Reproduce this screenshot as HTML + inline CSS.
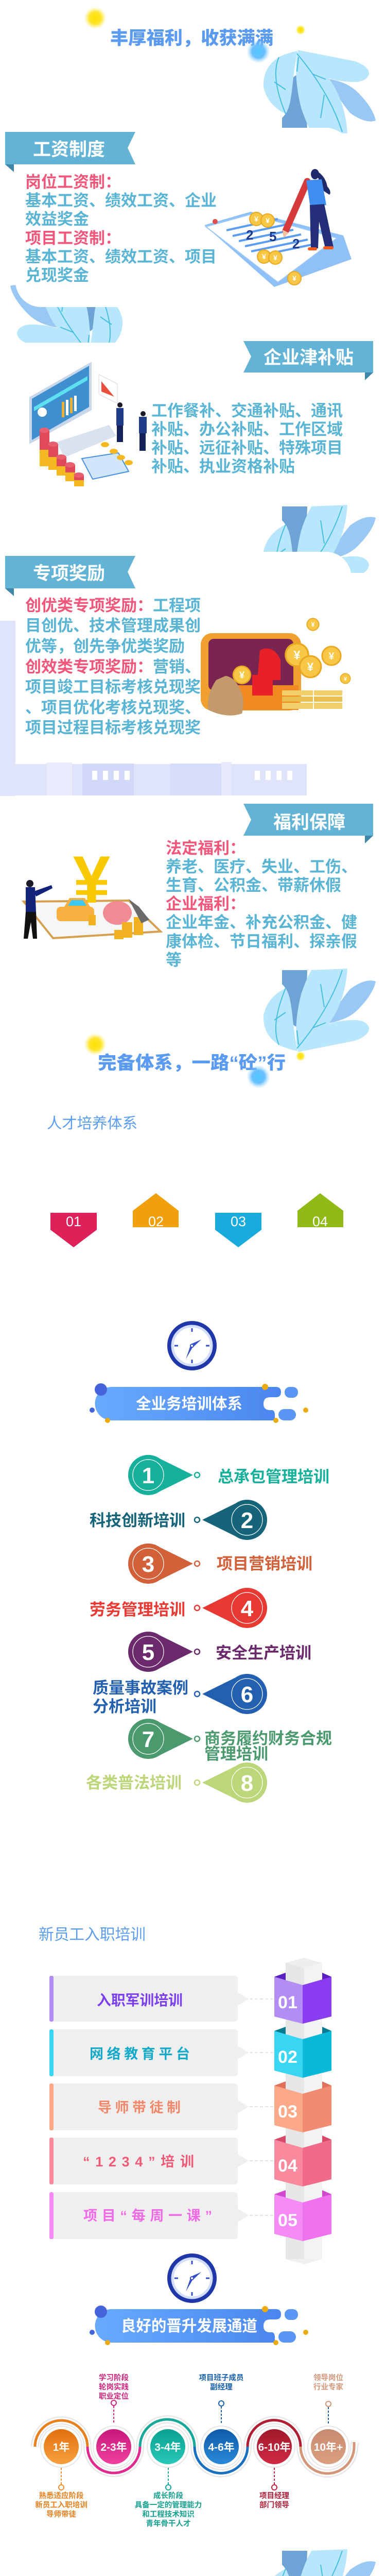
<!DOCTYPE html>
<html><head><meta charset="utf-8">
<style>
html{margin:0;padding:0;width:750px;height:5195px;overflow:hidden;background:#fff;}
body{margin:0;padding:0;width:750px;height:5195px;overflow:hidden;position:relative;background:#fff;}
svg{position:absolute;left:0;top:0;display:block;width:750px;height:5195px;}
text{font-family:"Liberation Sans","Noto Sans CJK SC",sans-serif;}
</style></head>
<body>
<svg width="750" height="5195" viewBox="0 0 750 5195" xmlns="http://www.w3.org/2000/svg" overflow="hidden">
<defs>
  <radialGradient id="gy"><stop offset="0" stop-color="#ffe000"/><stop offset="0.55" stop-color="#ffe21a" stop-opacity="0.9"/><stop offset="1" stop-color="#fff37a" stop-opacity="0"/></radialGradient>
  <radialGradient id="gb"><stop offset="0" stop-color="#4fc8ff"/><stop offset="0.55" stop-color="#5ab8ff" stop-opacity="0.9"/><stop offset="1" stop-color="#9fd8ff" stop-opacity="0"/></radialGradient>
  <linearGradient id="pill" x1="0" x2="1"><stop offset="0" stop-color="#69aaff"/><stop offset="1" stop-color="#4a86ee"/></linearGradient>
  <linearGradient id="c1" x1="0" y1="0" x2="0" y2="1"><stop offset="0" stop-color="#e0700c"/><stop offset="1" stop-color="#f8a040"/></linearGradient>
  <linearGradient id="c2" x1="0" y1="0" x2="0" y2="1"><stop offset="0" stop-color="#c8187a"/><stop offset="1" stop-color="#f040a0"/></linearGradient>
  <linearGradient id="c3" x1="0" y1="0" x2="0" y2="1"><stop offset="0" stop-color="#0aa090"/><stop offset="1" stop-color="#28c8b8"/></linearGradient>
  <linearGradient id="c4" x1="0" y1="0" x2="0" y2="1"><stop offset="0" stop-color="#0e5aa8"/><stop offset="1" stop-color="#2a8ad8"/></linearGradient>
  <linearGradient id="c5" x1="0" y1="0" x2="0" y2="1"><stop offset="0" stop-color="#a01a2c"/><stop offset="1" stop-color="#d02a44"/></linearGradient>
  <linearGradient id="c6" x1="0" y1="0" x2="0" y2="1"><stop offset="0" stop-color="#c88a70"/><stop offset="1" stop-color="#daa080"/></linearGradient>
  <g id="leaf">
    <path d="M48,13 L97,13 L95,80 Q92,123 78,123 Q64,123 66,90 Q64,55 48,40 Z" fill="#6ea3d6"/>
    <path d="M230,35 Q210,28 180,50 Q155,80 138,116 Q175,110 195,90 Q225,60 230,35 Z" fill="#9ac8f5"/>
    <path d="M105,13 L175,10 Q172,60 150,100 Q120,150 78,168 Q70,120 85,60 Q95,30 105,13 Z" fill="#b8e6fc"/>
    <path d="M55,48 Q20,65 12,100 Q10,140 45,160 Q65,168 78,170 Q72,140 68,100 Q64,62 55,48 Z" fill="#b8e6fc"/>
    <path d="M78,172 Q140,160 190,150 Q218,140 217,125 Q212,108 180,110 Q140,112 110,130 Q85,150 78,172 Z" fill="#b8e6fc"/>
    <g fill="none" stroke="#45bfe0" stroke-width="2">
      <path d="M42,158 Q25,120 55,48"/><path d="M33,110 L55,95"/><path d="M165,13 Q140,90 77,165"/><path d="M123,40 L130,85"/><path d="M108,125 L133,115"/><path d="M77,130 L80,158"/>
    </g>
  </g>
  <g id="coin"><circle r="14" fill="#e9a823"/><circle r="12" fill="#f7c745"/><text y="5" text-anchor="middle" font-size="14" font-weight="bold" fill="#fff">¥</text></g>
  <clipPath id="clipA"><rect x="0" y="520" width="300" height="145"/></clipPath>
  <clipPath id="clipB"><rect x="400" y="960" width="350" height="152"/></clipPath>
  <clipPath id="clipC"><rect x="400" y="4930" width="350" height="260"/></clipPath>
</defs>

<!-- ============ TITLE 1 ============ -->
<circle cx="185" cy="35" r="22" fill="url(#gy)"/>
<circle cx="584" cy="58" r="10" fill="url(#gy)"/>
<text x="214" y="86" font-size="35" font-weight="900" fill="#5a9af0" textLength="317" lengthAdjust="spacingAndGlyphs">丰厚福利，收获满满</text>
<circle cx="502" cy="100" r="23" fill="url(#gb)"/>

<g transform="translate(500,269) scale(1,-1)"><use href="#leaf"/></g>
<g clip-path="url(#clipA)"><g transform="translate(250,520) scale(-1,1)"><use href="#leaf"/></g></g>
<rect x="30" y="248" width="653" height="348" rx="50" fill="#fff"/>

<polygon points="10,256 263,256 248,287 263,319 10,319" fill="#62b3d6"/>
<polygon points="10,319 27,319 27,334" fill="#3f86a8"/>
<text x="64" y="302" font-size="35" font-weight="bold" fill="#fff">工资制度</text>

<g font-size="31" font-weight="bold" fill="#5ab4d4">
<text x="49" y="364" fill="#f0577a">岗位工资制：</text>
<text x="49" y="400">基本工资、绩效工资、企业</text>
<text x="49" y="436">效益奖金</text>
<text x="49" y="473" fill="#f0577a">项目工资制：</text>
<text x="49" y="509">基本工资、绩效工资、项目</text>
<text x="49" y="545">兑现奖金</text>
</g>

<polygon points="397,437 487,411 667,457 683,503 533,557" fill="#8fc0f7"/>
<polygon points="400,440 487,416 655,462 540,548" fill="#fff" stroke="#9cc8f8" stroke-width="2"/>
<g stroke="#5b9cf0" stroke-width="4">
<line x1="440" y1="447" x2="540" y2="425"/><line x1="452" y1="458" x2="555" y2="436"/><line x1="464" y1="468" x2="570" y2="446"/><line x1="476" y1="478" x2="585" y2="455"/><line x1="488" y1="488" x2="598" y2="465"/><line x1="500" y1="497" x2="605" y2="475"/>
</g>
<text x="478" y="465" font-size="26" font-weight="900" fill="#1e3a8a">2</text>
<text x="523" y="468" font-size="26" font-weight="900" fill="#1e3a8a">5</text>
<text x="568" y="482" font-size="26" font-weight="900" fill="#1e3a8a">2</text>
<circle cx="418" cy="430" r="5" fill="#e05050"/>
<use href="#coin" x="498" y="425"/><use href="#coin" x="520" y="428"/>
<use href="#coin" x="513" y="498"/><use href="#coin" x="535" y="500"/><use href="#coin" x="572" y="540"/>
<line x1="597" y1="352" x2="555" y2="448" stroke="#d63b3b" stroke-width="13" stroke-linecap="round"/>
<polygon points="549,446 561,452 551,462" fill="#f2c2a0"/>
<ellipse cx="612" cy="338" rx="8" ry="10" fill="#1e2a6a"/>
<path d="M612,330 Q632,340 636,362 Q645,372 640,378 L628,370 Z" fill="#1e2a6a"/>
<polygon points="595,350 625,348 634,398 603,402" fill="#3f8ef0"/>
<polygon points="602,398 630,396 648,480 632,482 620,430 618,482 604,482" fill="#232d78"/>
<rect x="598" y="480" width="18" height="6" rx="3" fill="#f25a1e"/><rect x="628" y="478" width="20" height="6" rx="3" fill="#f25a1e"/>

<!-- ============ SEC2 ============ -->
<polygon points="473,662 725,662 725,723 473,723 488,692" fill="#62b3d6"/>
<polygon points="709,723 725,723 709,738" fill="#3f86a8"/>
<text x="512" y="706" font-size="35" font-weight="bold" fill="#fff">企业津补贴</text>
<g font-size="31" font-weight="bold" fill="#5ab4d4">
<text x="294" y="808">工作餐补、交通补贴、通讯</text>
<text x="294" y="844">补贴、办公补贴、工作区域</text>
<text x="294" y="880">补贴、远征补贴、特殊项目</text>
<text x="294" y="916">补贴、执业资格补贴</text>
</g>
<polygon points="57,771 178,702 178,796 57,862" fill="#c8d8ea"/>
<polygon points="62,774 173,710 173,790 62,854" fill="#3d8fd0"/>
<polygon points="66,790 170,730 170,738 66,798" fill="#5fe0f0"/>
<rect x="120" y="780" width="5" height="30" fill="#f5b030"/><rect x="128" y="776" width="5" height="30" fill="#fff"/><rect x="136" y="772" width="5" height="30" fill="#f5b030"/><rect x="144" y="768" width="5" height="30" fill="#fff"/>
<circle cx="82" cy="800" r="9" fill="#fff"/>
<polygon points="110,858 212,825 226,846 125,888" fill="#d9e2ee"/>
<polygon points="192,727 228,745 228,783 192,765" fill="#fff" stroke="#d0d8e0"/>
<polygon points="197,740 222,770 197,760" fill="#e8503c"/>
<g>
<rect x="77" y="835" width="19" height="70" fill="#f6b820"/><rect x="77" y="835" width="19" height="38" fill="#e04a58"/><ellipse cx="86" cy="835" rx="9.5" ry="5" fill="#e86070"/>
<rect x="94" y="862" width="19" height="50" fill="#f6b820"/><rect x="94" y="862" width="19" height="25" fill="#e04a58"/><ellipse cx="103" cy="862" rx="9.5" ry="5" fill="#e86070"/>
<rect x="110" y="887" width="19" height="36" fill="#f6b820"/><rect x="110" y="887" width="19" height="18" fill="#e04a58"/><ellipse cx="119" cy="887" rx="9.5" ry="5" fill="#e86070"/>
<rect x="127" y="902" width="19" height="32" fill="#f6b820"/><rect x="127" y="902" width="19" height="15" fill="#e04a58"/><ellipse cx="136" cy="902" rx="9.5" ry="5" fill="#e86070"/>
<rect x="144" y="922" width="19" height="22" fill="#f6b820"/><rect x="144" y="922" width="19" height="10" fill="#e04a58"/><ellipse cx="153" cy="922" rx="9.5" ry="5" fill="#e86070"/>
</g>
<polygon points="159,890 230,879 250,915 180,930" fill="#cfe6fb" stroke="#4a90e0" stroke-width="2"/>
<ellipse cx="204" cy="863" rx="8" ry="5" fill="#f6b820"/><ellipse cx="221" cy="876" rx="8" ry="5" fill="#f6b820"/><ellipse cx="235" cy="888" rx="8" ry="5" fill="#f6b820"/><ellipse cx="250" cy="898" rx="8" ry="5" fill="#f6b820"/>
<circle cx="233" cy="786" r="5" fill="#1a1a2a"/><rect x="226" y="792" width="14" height="34" fill="#1f3c88"/><rect x="227" y="826" width="12" height="32" fill="#16205a"/>
<circle cx="278" cy="803" r="5" fill="#1a1a2a"/><rect x="270" y="809" width="15" height="32" fill="#1f3c88"/><rect x="271" y="841" width="12" height="34" fill="#16205a"/>

<g clip-path="url(#clipB)"><use href="#leaf" x="500" y="970"/></g>

<g fill="#dfe4fb">
<rect x="0" y="1205" width="30" height="340"/>
<rect x="0" y="1483" width="596" height="61"/>
<rect x="90" y="1480" width="50" height="64" fill="#e8ecfc"/>
<rect x="160" y="1482" width="100" height="62" fill="#d2d9f8"/>
<rect x="330" y="1482" width="100" height="62" fill="#d8def9"/>
<rect x="430" y="1470" width="20" height="74" fill="#e6eafc"/>
</g>
<g fill="#fff"><rect x="179" y="1496" width="10" height="18"/><rect x="200" y="1496" width="10" height="18"/><rect x="221" y="1496" width="10" height="18"/><rect x="242" y="1496" width="10" height="18"/>
<rect x="495" y="1496" width="10" height="18"/><rect x="516" y="1496" width="10" height="18"/><rect x="537" y="1496" width="10" height="18"/><rect x="558" y="1496" width="10" height="18"/></g>

<rect x="30" y="1071" width="653" height="408" rx="50" fill="#fff"/>

<polygon points="10,1079 263,1079 248,1110 263,1142 10,1142" fill="#62b3d6"/>
<polygon points="10,1142 27,1142 27,1157" fill="#3f86a8"/>
<text x="64" y="1125" font-size="35" font-weight="bold" fill="#fff">专项奖励</text>
<g font-size="31" font-weight="bold" fill="#5ab4d4">
<text x="49" y="1186"><tspan fill="#f0577a">创优类专项奖励：</tspan>工程项</text>
<text x="49" y="1225">目创优、技术管理成果创</text>
<text x="49" y="1265">优等，创先争优类奖励</text>
<text x="49" y="1305"><tspan fill="#f0577a">创效类专项奖励：</tspan>营销、</text>
<text x="49" y="1344">项目竣工目标考核兑现奖</text>
<text x="49" y="1384">、项目优化考核兑现奖、</text>
<text x="49" y="1423">项目过程目标考核兑现奖</text>
</g>
<rect x="390" y="1229" width="195" height="150" rx="22" fill="#f0a030"/>
<rect x="405" y="1240" width="165" height="100" rx="10" fill="#7a2550"/>
<rect x="430" y="1330" width="150" height="48" fill="#f08a20"/>
<rect x="490" y="1310" width="40" height="40" fill="#e8202a"/>
<path d="M505,1262 Q530,1250 545,1280 L545,1320 L500,1320 Z" fill="#e8202a"/>
<path d="M420,1320 Q400,1350 405,1378 Q440,1395 470,1385 Q480,1350 455,1320 Q445,1312 438,1312 Z" fill="#c49a6c"/>
<rect x="548" y="1340" width="60" height="10" fill="#f2cf6a"/><rect x="548" y="1352" width="60" height="10" fill="#e8c050"/><rect x="548" y="1364" width="60" height="12" fill="#f2cf6a"/>
<rect x="610" y="1340" width="55" height="10" fill="#f2cf6a"/><rect x="610" y="1352" width="55" height="10" fill="#e8c050"/><rect x="610" y="1364" width="55" height="12" fill="#f2cf6a"/>
<g transform="translate(577,1271) scale(1.7)"><use href="#coin"/></g>
<g transform="translate(603,1294) scale(1.6)"><use href="#coin"/></g>
<g transform="translate(644,1273) scale(1.4)"><use href="#coin"/></g>
<g transform="translate(470,1310) scale(1.3)"><use href="#coin"/></g>
<g transform="translate(608,1212) scale(0.9)"><use href="#coin"/></g>
<g transform="translate(671,1317) scale(0.75)"><use href="#coin"/></g>

<!-- ============ SEC4 ============ -->
<polygon points="473,1560 725,1560 725,1622 473,1622 488,1591" fill="#62b3d6"/>
<polygon points="709,1622 725,1622 709,1637" fill="#3f86a8"/>
<text x="531" y="1608" font-size="35" font-weight="bold" fill="#fff">福利保障</text>
<g font-size="31" font-weight="bold" fill="#5ab4d4">
<text x="322" y="1657" fill="#f0577a">法定福利：</text>
<text x="322" y="1693">养老、医疗、失业、工伤、</text>
<text x="322" y="1729">生育、公积金、带薪休假</text>
<text x="322" y="1765" fill="#f0577a">企业福利：</text>
<text x="322" y="1801">企业年金、补充公积金、健</text>
<text x="322" y="1838">康体检、节日福利、探亲假</text>
<text x="322" y="1874">等</text>
</g>
<polygon points="46,1750 250,1748 312,1808 103,1821" fill="#f6f6f6" stroke="#d4a050" stroke-width="4"/>
<text x="178" y="1752" text-anchor="middle" font-size="130" font-weight="900" fill="#f8c800">¥</text>
<rect x="110" y="1760" width="73" height="28" rx="8" fill="#f8b040"/>
<path d="M125,1760 L135,1743 L165,1743 L175,1760 Z" fill="#f8b040"/><path d="M132,1758 L139,1747 L161,1747 L168,1758 Z" fill="#3fc8f0"/>
<ellipse cx="228" cy="1772" rx="28" ry="23" fill="#f08a94"/>
<g fill="#f0b020"><rect x="237" y="1790" width="20" height="30"/><rect x="260" y="1780" width="18" height="35"/><rect x="222" y="1805" width="18" height="18"/><rect x="172" y="1776" width="14" height="20"/></g>
<polygon points="250,1745 270,1760 290,1785 275,1792" fill="#6a6a6a"/>
<circle cx="58" cy="1715" r="7" fill="#1a1a2a"/>
<polygon points="50,1722 68,1722 70,1770 50,1772" fill="#13237a"/>
<polygon points="66,1730 100,1718 102,1724 70,1740" fill="#13237a"/>
<polygon points="50,1770 70,1770 72,1822 64,1822 60,1790 54,1822 46,1822" fill="#111"/>

<use href="#leaf" x="500" y="1870"/>

<!-- ============ TITLE 2 ============ -->
<circle cx="185" cy="2027" r="22" fill="url(#gy)"/>
<circle cx="584" cy="2050" r="10" fill="url(#gy)"/>
<text x="190" y="2075" font-size="35" font-weight="900" fill="#5a9af0" textLength="365" lengthAdjust="spacingAndGlyphs">完备体系，一路“砼”行</text>
<circle cx="502" cy="2090" r="23" fill="url(#gb)"/>

<text x="91" y="2190" font-size="29" fill="#5b9cf0" textLength="176" lengthAdjust="spacingAndGlyphs">人才培养体系</text>
<polygon points="98,2354 188,2354 188,2387 143,2421 98,2387" fill="#de2159"/>
<polygon points="258,2350 303,2316 347,2350 347,2382 258,2382" fill="#f0a00a"/>
<polygon points="418,2354 508,2354 508,2387 463,2421 418,2387" fill="#1aabdd"/>
<polygon points="578,2350 622,2316 667,2350 667,2382 578,2382" fill="#8fba18"/>
<g font-size="27" fill="#fff" text-anchor="middle">
<text x="143" y="2380">01</text><text x="303" y="2380">02</text><text x="463" y="2380">03</text><text x="622" y="2380">04</text>
</g>

<g transform="translate(373,2612)">
<circle r="44" fill="#fff" stroke="#1f37a8" stroke-width="8"/>
<circle r="38" fill="none" stroke="#d3ddff" stroke-width="5"/>
<g stroke="#3550c8" stroke-width="3"><line x1="0" y1="-34" x2="0" y2="-27"/><line x1="0" y1="34" x2="0" y2="27"/><line x1="-34" y1="0" x2="-27" y2="0"/><line x1="34" y1="0" x2="27" y2="0"/></g>
<polygon points="-12,26 -2,-3 3,0" fill="#3550c8"/><polygon points="0,-4 18,-12 2,3" fill="#3550c8"/><circle r="3" fill="#fff" stroke="#3550c8" stroke-width="2"/>
</g>

<g id="pb">
<path d="M217,2692 L536,2692 Q546,2692 546,2702 Q546,2712 536,2712 L525,2712 Q512,2712 512,2725 Q512,2737 525,2737 L528,2737 Q534,2737 534,2747 L534,2757 L217,2757 A32.5,32.5 0 0 1 217,2692 Z" fill="url(#pill)"/>
<rect x="553" y="2692" width="26" height="21" rx="10" fill="#5a96f4"/>
<rect x="541" y="2735" width="34" height="22" rx="11" fill="#5a96f4"/>
<circle cx="196" cy="2697" r="12" fill="#4664da"/>
<circle cx="179" cy="2737" r="5" fill="#4664da"/>
<circle cx="515" cy="2692" r="6" fill="#eaaa10"/><circle cx="536" cy="2757" r="5" fill="#eaaa10"/><circle cx="594" cy="2737" r="5" fill="#eaaa10"/><circle cx="209" cy="2757" r="5" fill="#eaaa10"/>
</g>
<text x="264" y="2735" font-size="30" font-weight="bold" fill="#fff" textLength="207" lengthAdjust="spacingAndGlyphs">全业务培训体系</text>

<g font-size="31" font-weight="bold">
<g fill="#17b09b"><polygon points="300,2826 375,2863 300,2900"/><circle cx="288" cy="2863" r="39"/></g>
<circle cx="288" cy="2863" r="30" fill="none" stroke="#fff" stroke-width="1.2"/>
<circle cx="383" cy="2863" r="5" fill="#fff" stroke="#17b09b" stroke-width="2.5"/>
<text x="288" y="2879" text-anchor="middle" font-size="44" fill="#fff">1</text>
<text x="423" y="2877" fill="#17b09b">总承包管理培训</text>
<g fill="#15647a"><polygon points="468,2913 393,2950 468,2987"/><circle cx="480" cy="2950" r="39"/></g>
<circle cx="480" cy="2950" r="30" fill="none" stroke="#fff" stroke-width="1.2"/>
<circle cx="383" cy="2950" r="5" fill="#fff" stroke="#15647a" stroke-width="2.5"/>
<text x="480" y="2966" text-anchor="middle" font-size="44" fill="#fff">2</text>
<text x="174" y="2962" fill="#15647a">科技创新培训</text>
<g fill="#d2613a"><polygon points="300,2998 375,3035 300,3072"/><circle cx="288" cy="3035" r="39"/></g>
<circle cx="288" cy="3035" r="30" fill="none" stroke="#fff" stroke-width="1.2"/>
<circle cx="383" cy="3035" r="5" fill="#fff" stroke="#d2613a" stroke-width="2.5"/>
<text x="288" y="3051" text-anchor="middle" font-size="44" fill="#fff">3</text>
<text x="421" y="3046" fill="#d2613a">项目营销培训</text>
<g fill="#e83a33"><polygon points="468,3084 393,3121 468,3158"/><circle cx="480" cy="3121" r="39"/></g>
<circle cx="480" cy="3121" r="30" fill="none" stroke="#fff" stroke-width="1.2"/>
<circle cx="383" cy="3121" r="5" fill="#fff" stroke="#e83a33" stroke-width="2.5"/>
<text x="480" y="3137" text-anchor="middle" font-size="44" fill="#fff">4</text>
<text x="174" y="3135" fill="#e83a33">劳务管理培训</text>
<g fill="#6a2a6c"><polygon points="300,3169 375,3206 300,3243"/><circle cx="288" cy="3206" r="39"/></g>
<circle cx="288" cy="3206" r="30" fill="none" stroke="#fff" stroke-width="1.2"/>
<circle cx="383" cy="3206" r="5" fill="#fff" stroke="#6a2a6c" stroke-width="2.5"/>
<text x="288" y="3222" text-anchor="middle" font-size="44" fill="#fff">5</text>
<text x="419" y="3219" fill="#6a2a6c">安全生产培训</text>
<g fill="#2361b0"><polygon points="468,3251 393,3288 468,3325"/><circle cx="480" cy="3288" r="39"/></g>
<circle cx="480" cy="3288" r="30" fill="none" stroke="#fff" stroke-width="1.2"/>
<circle cx="383" cy="3288" r="5" fill="#fff" stroke="#2361b0" stroke-width="2.5"/>
<text x="480" y="3304" text-anchor="middle" font-size="44" fill="#fff">6</text>
<text x="180" y="3287" fill="#2361b0">质量事故案例</text>
<text x="180" y="3323" fill="#2361b0">分析培训</text>
<g fill="#4a9a6e"><polygon points="300,3338 375,3375 300,3412"/><circle cx="288" cy="3375" r="39"/></g>
<circle cx="288" cy="3375" r="30" fill="none" stroke="#fff" stroke-width="1.2"/>
<circle cx="383" cy="3375" r="5" fill="#fff" stroke="#4a9a6e" stroke-width="2.5"/>
<text x="288" y="3391" text-anchor="middle" font-size="44" fill="#fff">7</text>
<text x="397" y="3385" fill="#4a9a6e">商务履约财务合规</text>
<text x="397" y="3415" fill="#4a9a6e">管理培训</text>
<g fill="#bcd77a"><polygon points="468,3423 393,3460 468,3497"/><circle cx="480" cy="3460" r="39"/></g>
<circle cx="480" cy="3460" r="30" fill="none" stroke="#fff" stroke-width="1.2"/>
<circle cx="383" cy="3460" r="5" fill="#fff" stroke="#bcd77a" stroke-width="2.5"/>
<text x="480" y="3476" text-anchor="middle" font-size="44" fill="#fff">8</text>
<text x="167" y="3471" fill="#bcd77a">各类普法培训</text>
</g>

<text x="75" y="3765" font-size="30" fill="#5b9cf0" textLength="208" lengthAdjust="spacingAndGlyphs">新员工入职培训</text>

<rect x="555" y="3810" width="36" height="575" fill="#e6e6e6"/>
<rect x="591" y="3810" width="35" height="575" fill="#f3f3f3"/>
<polygon points="555,3810 591,3800 626,3810 591,3820" fill="#eeeeee"/>
<polygon points="555,4385 591,4395 626,4385" fill="#f0f0f0"/>

<g font-weight="bold">
<rect x="96" y="3835" width="366" height="89" rx="6" fill="#efefef"/><rect x="96" y="3835" width="8" height="89" rx="3" fill="#b48cf5"/>
<polygon points="460,3866 483,3880 460,3894" fill="#efefef"/>
<line x1="485" y1="3880" x2="532" y2="3880" stroke="#e3e3e3" stroke-width="2" stroke-dasharray="6,4"/>
<text x="188" y="3892" font-size="28" fill="#7b3ff0" textLength="167" lengthAdjust="spacingAndGlyphs">入职军训培训</text>
<rect x="96" y="3939" width="366" height="91" rx="6" fill="#efefef"/><rect x="96" y="3939" width="8" height="91" rx="3" fill="#38d6f3"/>
<polygon points="460,3970 483,3984 460,3998" fill="#efefef"/>
<line x1="485" y1="3984" x2="532" y2="3984" stroke="#e3e3e3" stroke-width="2" stroke-dasharray="6,4"/>
<text x="174" y="3996" font-size="27" fill="#13a9c8" textLength="195" lengthAdjust="spacing">网络教育平台</text>
<rect x="96" y="4044" width="366" height="91" rx="6" fill="#efefef"/><rect x="96" y="4044" width="8" height="91" rx="3" fill="#fca98a"/>
<polygon points="460,4075 483,4089 460,4103" fill="#efefef"/>
<line x1="485" y1="4089" x2="532" y2="4089" stroke="#e3e3e3" stroke-width="2" stroke-dasharray="6,4"/>
<text x="190" y="4100" font-size="27" fill="#f0886c" textLength="161" lengthAdjust="spacing">导师带徒制</text>
<rect x="96" y="4149" width="366" height="91" rx="6" fill="#efefef"/><rect x="96" y="4149" width="8" height="91" rx="3" fill="#f98a9e"/>
<polygon points="460,4180 483,4194 460,4208" fill="#efefef"/>
<line x1="485" y1="4194" x2="532" y2="4194" stroke="#e3e3e3" stroke-width="2" stroke-dasharray="6,4"/>
<text x="161" y="4205" font-size="27" fill="#ef5a78" textLength="216" lengthAdjust="spacing">“1234”培训</text>
<rect x="96" y="4255" width="366" height="91" rx="6" fill="#efefef"/><rect x="96" y="4255" width="8" height="91" rx="3" fill="#f58af5"/>
<polygon points="460,4286 483,4300 460,4314" fill="#efefef"/>
<line x1="485" y1="4300" x2="532" y2="4300" stroke="#e3e3e3" stroke-width="2" stroke-dasharray="6,4"/>
<text x="162" y="4310" font-size="27" fill="#f069e6" textLength="250" lengthAdjust="spacing">项目“每周一课”</text>
</g>

<g font-weight="bold" font-size="34" fill="#fff">
<polygon points="533,3837 555,3829 555,3845" fill="#5a1fc0"/><polygon points="644,3837 626,3829 626,3845" fill="#5a1fc0"/>
<polygon points="533,3837 588,3853 588,3928 533,3914" fill="#b48cf5"/><polygon points="588,3853 644,3837 644,3914 588,3928" fill="#8a3cf0"/>
<text x="540" y="3898" textLength="38" lengthAdjust="spacingAndGlyphs">01</text>
<polygon points="533,3942 555,3934 555,3950" fill="#087a90"/><polygon points="644,3942 626,3934 626,3950" fill="#087a90"/>
<polygon points="533,3942 588,3958 588,4033 533,4019" fill="#38d6f3"/><polygon points="588,3958 644,3942 644,4019 588,4033" fill="#0cb8d8"/>
<text x="540" y="4004" textLength="38" lengthAdjust="spacingAndGlyphs">02</text>
<polygon points="533,4048 555,4040 555,4056" fill="#e07058"/><polygon points="644,4048 626,4040 626,4056" fill="#e07058"/>
<polygon points="533,4048 588,4064 588,4139 533,4125" fill="#fca98a"/><polygon points="588,4064 644,4048 644,4125 588,4139" fill="#f28b73"/>
<text x="540" y="4110" textLength="38" lengthAdjust="spacingAndGlyphs">03</text>
<polygon points="533,4153 555,4145 555,4161" fill="#d84868"/><polygon points="644,4153 626,4145 626,4161" fill="#d84868"/>
<polygon points="533,4153 588,4169 588,4244 533,4230" fill="#f98a9e"/><polygon points="588,4169 644,4153 644,4230 588,4244" fill="#f06b88"/>
<text x="540" y="4215" textLength="38" lengthAdjust="spacingAndGlyphs">04</text>
<polygon points="533,4259 555,4251 555,4267" fill="#d048d0"/><polygon points="644,4259 626,4251 626,4267" fill="#d048d0"/>
<polygon points="533,4259 588,4275 588,4350 533,4336" fill="#f58af5"/><polygon points="588,4275 644,4259 644,4336 588,4350" fill="#ee72ee"/>
<text x="540" y="4321" textLength="38" lengthAdjust="spacingAndGlyphs">05</text>
</g>

<g transform="translate(373,4422)">
<circle r="44" fill="#fff" stroke="#1f37a8" stroke-width="8"/>
<circle r="38" fill="none" stroke="#d3ddff" stroke-width="5"/>
<g stroke="#3550c8" stroke-width="3"><line x1="0" y1="-34" x2="0" y2="-27"/><line x1="0" y1="34" x2="0" y2="27"/><line x1="-34" y1="0" x2="-27" y2="0"/><line x1="34" y1="0" x2="27" y2="0"/></g>
<polygon points="-12,26 -2,-3 3,0" fill="#3550c8"/><polygon points="0,-4 18,-12 2,3" fill="#3550c8"/><circle r="3" fill="#fff" stroke="#3550c8" stroke-width="2"/>
</g>

<use href="#pb" y="1790"/>
<text x="235" y="4525" font-size="30" font-weight="bold" fill="#fff" textLength="265" lengthAdjust="spacingAndGlyphs">良好的晋升发展通道</text>

<g fill="none">
<path d="M68,4749 A51,51 0 0 1 170,4749 A51,51 0 0 0 272,4749 A53,53 0 0 1 378,4749 A51.5,51.5 0 0 0 481,4749 A51.5,51.5 0 0 1 584,4749 A52,52 0 0 0 688,4749 L690,4740" stroke="#e8e8e8" stroke-width="16"/>
<path d="M68,4749 A51,51 0 0 1 170,4749 A51,51 0 0 0 272,4749 A53,53 0 0 1 378,4749 A51.5,51.5 0 0 0 481,4749 A51.5,51.5 0 0 1 584,4749 A52,52 0 0 0 688,4749 L690,4740" stroke="#fff" stroke-width="11"/>
<g stroke-width="5">
<path d="M68,4749 A51,51 0 0 1 170,4749" stroke="#e8801e"/>
<path d="M170,4749 A51,51 0 0 0 272,4749" stroke="#e02a8e"/>
<path d="M272,4749 A53,53 0 0 1 378,4749" stroke="#16a898"/>
<path d="M378,4749 A51.5,51.5 0 0 0 481,4749" stroke="#1a70c0"/>
<path d="M481,4749 A51.5,51.5 0 0 1 584,4749" stroke="#b01e34"/>
<path d="M584,4749 A52,52 0 0 0 688,4749 L688,4740" stroke="#d49678"/>
</g>
</g>
<g>
<circle cx="119" cy="4749" r="40" fill="#fff" stroke="#e6e6e6" stroke-width="2"/><circle cx="119" cy="4749" r="34" fill="url(#c1)"/>
<circle cx="221" cy="4749" r="40" fill="#fff" stroke="#e6e6e6" stroke-width="2"/><circle cx="221" cy="4749" r="34" fill="url(#c2)"/>
<circle cx="326" cy="4749" r="40" fill="#fff" stroke="#e6e6e6" stroke-width="2"/><circle cx="326" cy="4749" r="34" fill="url(#c3)"/>
<circle cx="430" cy="4749" r="40" fill="#fff" stroke="#e6e6e6" stroke-width="2"/><circle cx="430" cy="4749" r="34" fill="url(#c4)"/>
<circle cx="533" cy="4749" r="40" fill="#fff" stroke="#e6e6e6" stroke-width="2"/><circle cx="533" cy="4749" r="34" fill="url(#c5)"/>
<circle cx="638" cy="4749" r="40" fill="#fff" stroke="#e6e6e6" stroke-width="2"/><circle cx="638" cy="4749" r="34" fill="url(#c6)"/>
</g>
<g font-size="21" font-weight="bold" fill="#fff" text-anchor="middle">
<text x="119" y="4757">1年</text><text x="221" y="4757">2-3年</text><text x="326" y="4757">3-4年</text><text x="430" y="4757">4-6年</text><text x="533" y="4757">6-10年</text><text x="638" y="4757">10年+</text>
</g>
<g fill="#fff" stroke-width="2">
<line x1="221" y1="4670" x2="221" y2="4705" stroke="#d02480" stroke-dasharray="4,3"/><circle cx="221" cy="4664" r="5" stroke="#d02480"/>
<line x1="430" y1="4671" x2="430" y2="4706" stroke="#1a62b0" stroke-dasharray="4,3"/><circle cx="430" cy="4665" r="5" stroke="#1a62b0"/>
<line x1="638" y1="4672" x2="638" y2="4707" stroke="#1a62b0" stroke-dasharray="4,3"/><circle cx="638" cy="4666" r="5" stroke="#d49678"/>
<line x1="119" y1="4790" x2="119" y2="4823" stroke="#f0902a" stroke-dasharray="4,3"/><circle cx="119" cy="4828" r="5" stroke="#f0902a"/>
<line x1="327" y1="4790" x2="327" y2="4823" stroke="#16a898" stroke-dasharray="4,3"/><circle cx="327" cy="4828" r="5" stroke="#16a898"/>
<line x1="533" y1="4790" x2="533" y2="4823" stroke="#c02040" stroke-dasharray="4,3"/><circle cx="533" cy="4828" r="5" stroke="#c02040"/>
</g>
<g font-size="14.5" font-weight="bold" text-anchor="middle">
<g fill="#d02480"><text x="221" y="4620">学习阶段</text><text x="221" y="4638">轮岗实践</text><text x="221" y="4656">职业定位</text></g>
<g fill="#1a62b0"><text x="430" y="4620">项目班子成员</text><text x="430" y="4638">副经理</text></g>
<g fill="#d49678"><text x="638" y="4620">领导岗位</text><text x="638" y="4638">行业专家</text></g>
<g fill="#e8801e"><text x="119" y="4849">熟悉适应阶段</text><text x="119" y="4867">新员工入职培训</text><text x="119" y="4885">导师带徒</text></g>
<g fill="#15a090"><text x="327" y="4849">成长阶段</text><text x="327" y="4867">具备一定的管理能力</text><text x="327" y="4885">和工程技术知识</text><text x="327" y="4903">青年骨干人才</text></g>
<g fill="#b0203a"><text x="533" y="4849">项目经理</text><text x="533" y="4867">部门领导</text></g>
</g>

<g clip-path="url(#clipC)"><use href="#leaf" x="500" y="4938"/></g>

<circle cx="185" cy="5103" r="22" fill="url(#gy)"/>
<circle cx="584" cy="5124" r="10" fill="url(#gy)"/>
<text x="214" y="5152" font-size="35" font-weight="900" fill="#5a9af0" textLength="317" lengthAdjust="spacingAndGlyphs">小家大爱，星辰大海</text>
<circle cx="502" cy="5166" r="23" fill="url(#gb)"/>
</svg>
</body></html>
